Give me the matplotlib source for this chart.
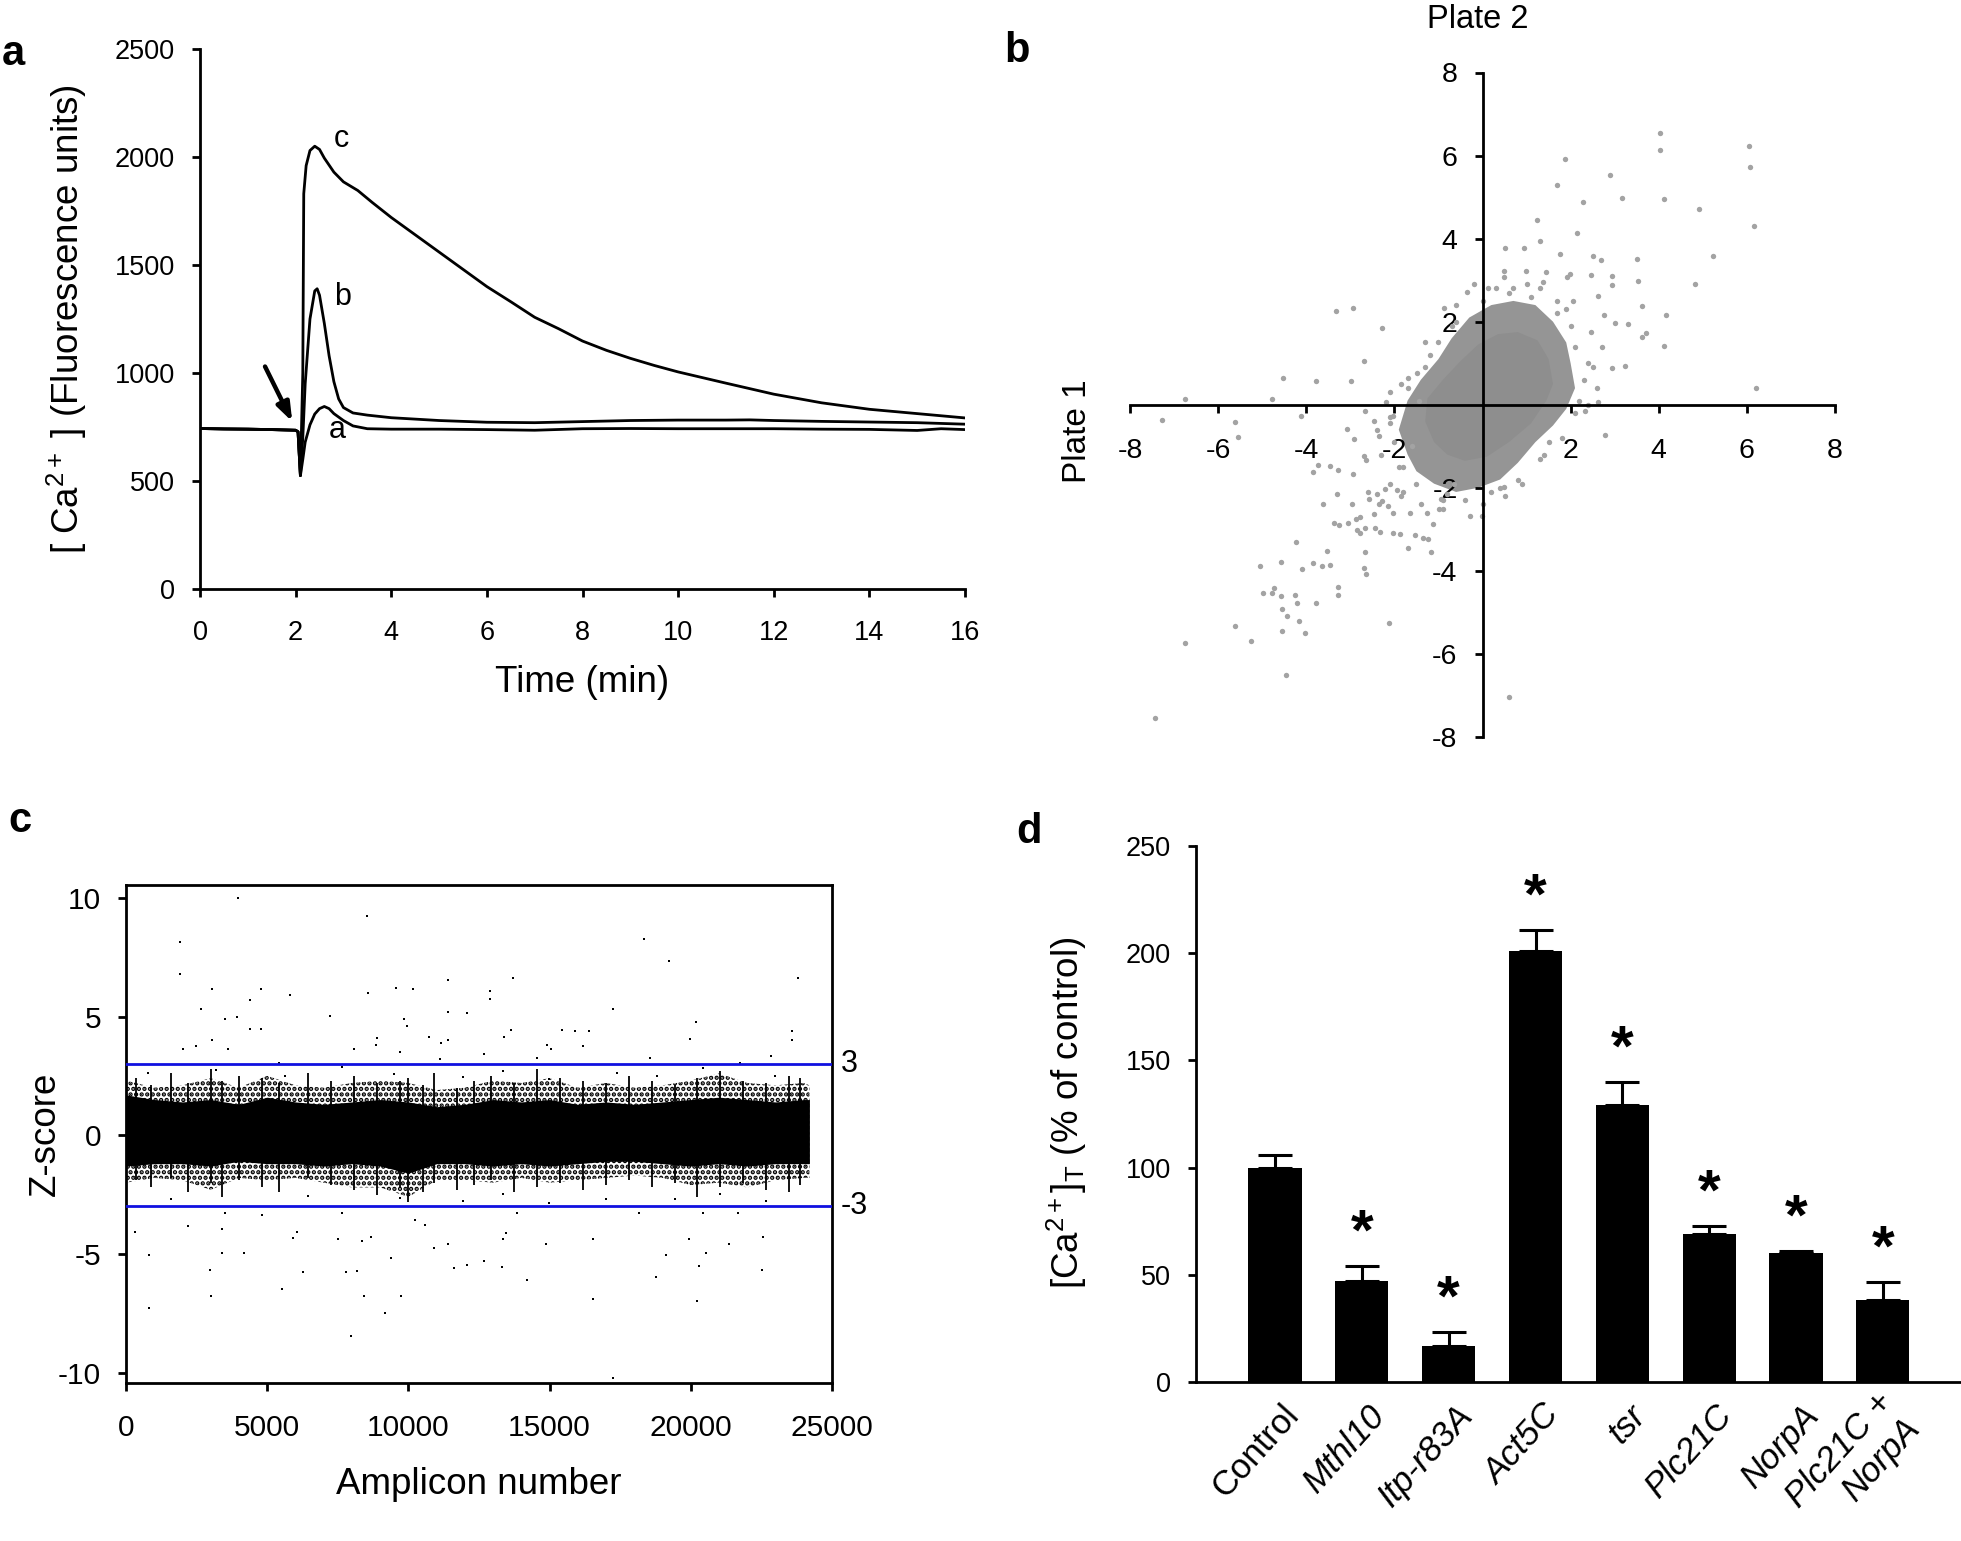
import matplotlib
matplotlib.use("Agg")
import matplotlib.pyplot as plt
import matplotlib.transforms as mtrans

plt.rcParams['font.family'] = ['Liberation Sans', 'DejaVu Sans']
plt.rcParams['mathtext.fontset'] = 'custom'
plt.rcParams['mathtext.rm'] = 'Liberation Sans'
plt.rcParams['mathtext.it'] = 'Liberation Sans:italic'
plt.rcParams['axes.unicode_minus'] = False
plt.rcParams['hatch.linewidth'] = 2.2

W, H = 1961, 1541  # output size in pixels (dpi 100)

# ---------------- panel a: Ca2+ traces ----------------
t_base = [0, 0.5, 1.0, 1.5, 2.0, 2.05, 2.1]
f_base = [743, 741, 740, 738, 735, 728, 525]
t_c = [2.15, 2.17, 2.22, 2.3, 2.4, 2.5, 2.6, 2.8, 3.0, 3.3, 3.6, 4, 4.5, 5, 5.5, 6,
       6.5, 7, 7.5, 8, 8.5, 9, 9.5, 10, 11, 12, 13, 14, 15, 16]
f_c = [1000, 1830, 1960, 2030, 2050, 2035, 1995, 1930, 1885, 1845, 1790, 1720, 1640,
       1560, 1480, 1400, 1330, 1258, 1205, 1148, 1105, 1068, 1035, 1005, 953, 902,
       862, 832, 812, 792]
t_b = [2.15, 2.2, 2.3, 2.4, 2.45, 2.5, 2.6, 2.7, 2.8, 2.9, 3.0, 3.2, 3.5, 4, 5, 6, 7,
       8, 9, 10, 11, 11.5, 12, 13, 14, 15, 16]
f_b = [700, 950, 1250, 1380, 1390, 1360, 1230, 1080, 960, 880, 840, 815, 805, 793,
       780, 772, 770, 775, 780, 782, 782, 783, 780, 776, 773, 770, 763]
t_a = [2.15, 2.2, 2.3, 2.4, 2.5, 2.6, 2.7, 2.8, 3.0, 3.2, 3.5, 4, 5, 6, 7, 8, 9, 10,
       11, 12, 13, 14, 15, 15.5, 16]
f_a = [600, 680, 760, 810, 835, 845, 835, 812, 780, 755, 742, 740, 740, 738, 735,
       742, 743, 742, 742, 742, 740, 739, 734, 742, 738]

# ---------------- panel b: plate 1 vs plate 2 ----------------
b_x = [4.02, 4.03, 6.04, 6.06, 6.16, 6.20, 1.88, 2.89, 1.69, 3.16,
       4.13, 2.29, 4.92, 1.23, 2.15, 1.30, 5.23, 3.51, 2.51, 2.68,
       1.75, 0.95, 0.51, 4.83, 3.52, 2.93, 2.93, 2.46, 1.99, 1.92,
       1.44, 1.37, 2.61, 2.06, 3.62, 4.17, 2.75, 3.00, 3.30, 2.47,
       3.71, 3.62, 4.13, 2.72, 2.93, 3.23, 2.61, 2.78, 2.40, 2.33,
       -0.36, -0.87, 0.12, 0.48, 0.48, 0.99,
       -3.33, -2.94, -2.27, -2.68, -4.53, -3.78, -2.98, -6.75, -4.78, -2.18,
       -1.70, -1.49, -1.45, -1.85,
       -7.28, -5.61, -5.54, -4.12, -3.08, -2.91, -2.67, -2.47, -2.36, -2.11,
       -2.02, -3.74, -3.84, -3.47, -3.29, -2.94, -2.68, -2.64, -3.30, -3.63,
       -2.96, -3.36, -3.26, -3.05, -2.86, -2.78, -2.60, -2.57, -2.39, -2.36,
       -2.22, -2.09, -1.95, -1.85, -2.02, -2.15, -2.29, -2.85, -2.78, -2.67,
       -2.47, -2.43, -2.32, -2.04, -1.88, -1.53, -1.35, -1.23, -1.16, -1.12,
       -1.64, -1.39, -1.26, -0.98, -0.94, -0.81, -0.28, -0.01, 0.48, -0.64,
       -4.23, -3.54, -3.85, -3.65, -3.47, -2.67, -2.68, -2.64, -4.09, -5.06,
       -4.57, -3.29, -3.29, -4.99, -4.78, -4.74, -4.57, -4.25, -3.77, -4.20,
       -4.54, -4.43, -4.16, -4.54, -4.02, -5.61, -5.26, -6.75, -4.47, -2.13,
       -7.43, 0.61, -1.70,
       -2.0, -1.8, -2.1, -1.7, -1.3, -1.0, -0.6, 0.0, 0.6, 1.1,
       1.7, 2.1, 2.3, 2.1, 1.8, 1.3, 0.8, 0.2, -0.4, -0.9,
       -1.5, 2.0, 1.3, 0.3, -0.6, -1.3, -2.1, -2.3, -1.8, 0.9,
       2.4, 1.7, -0.9, 0.5, 1.5, 2.2, -1.6, -0.2, 1.0, 1.9,
       2.5, 0.0, -1.2, 0.7, 1.4, -2.4, -0.7, 2.6, 0.4, -1.9]
b_y = [6.54, 6.13, 6.23, 5.73, 4.31, 0.40, 5.92, 5.52, 5.29, 4.99,
       4.96, 4.87, 4.71, 4.44, 4.13, 3.95, 3.57, 3.51, 3.57, 3.49,
       3.63, 3.78, 3.78, 2.90, 2.99, 3.10, 2.89, 3.13, 3.16, 3.08,
       3.20, 2.96, 2.61, 2.50, 2.38, 2.15, 2.15, 1.96, 1.94, 1.75,
       1.73, 1.64, 1.42, 1.40, 0.89, 0.93, 0.07, -0.72, 0.00, -0.14,
       2.72, 2.34, 2.82, 3.22, 3.08, 3.22,
       2.25, 2.32, 1.84, 1.05, 0.64, 0.57, 0.57, 0.14, 0.13, 0.06,
       0.65, 0.77, 0.09, 0.50,
       -0.36, -0.42, -0.78, -0.26, -0.58, -0.82, -0.16, -0.40, -0.75, -0.45,
       -0.26, -1.45, -1.62, -1.47, -1.56, -1.66, -1.24, -1.33, -2.15, -2.40,
       -2.38, -2.85, -2.90, -2.85, -2.76, -2.71, -2.09, -2.26, -2.15, -2.38,
       -2.03, -1.91, -2.05, -2.20, -2.61, -2.44, -2.32, -3.02, -3.10, -2.96,
       -2.64, -2.96, -3.06, -3.08, -3.11, -3.14, -3.20, -3.23, -3.55, -2.87,
       -2.61, -2.38, -2.61, -2.50, -2.26, -2.15, -2.69, -2.67, -1.97, -1.91,
       -3.31, -3.51, -3.80, -3.89, -3.85, -3.55, -3.92, -4.08, -3.96, -3.88,
       -3.78, -4.40, -4.57, -4.54, -4.54, -4.42, -4.60, -4.57, -4.78, -4.78,
       -4.92, -5.08, -5.20, -5.45, -5.50, -5.32, -5.68, -5.73, -6.50, -5.25,
       -7.55, -7.04, -3.46,
       -0.9, -1.5, -0.3, 0.4, 0.9, 1.5, 2.0, 2.5, 2.7, 2.6,
       2.2, 1.4, 0.6, -0.2, -0.8, -1.3, -1.8, -2.1, -2.3, -2.3,
       -1.9, 1.9, 2.8, 2.8, 2.4, 1.5, 0.3, -1.2, -2.1, -1.9,
       1.0, 2.5, -2.5, -2.2, -0.9, 0.1, -1.0, 2.9, 2.9, 2.3,
       0.9, -2.4, 1.2, 2.8, -1.2, -0.6, 1.9, 0.4, -2.0, -1.5]
# outline of the saturated central cloud and of its speckled fringe
core_x = [-1.3, -1.1, -0.8, -0.4, 0.1, 0.6, 1.1, 1.45, 1.6, 1.5, 1.25, 0.8, 0.35,
          -0.1, -0.5, -0.9, -1.25]
core_y = [-0.4, -0.9, -1.2, -1.35, -1.25, -0.9, -0.45, 0.1, 0.5, 1.1, 1.55, 1.75, 1.7,
          1.45, 1.05, 0.6, 0.15]
fringe_x = [-1.9, -1.7, -1.5, -1.1, -0.6, -0.1, 0.4, 0.8, 1.2, 1.6, 1.9, 2.1, 2.0, 1.9,
            1.6, 1.2, 0.7, 0.2, -0.3, -0.7, -1.0, -1.4, -1.7]
fringe_y = [-0.6, -1.2, -1.6, -1.9, -2.1, -2.0, -1.8, -1.4, -0.9, -0.5, -0.1, 0.4, 1.0,
            1.5, 2.0, 2.4, 2.5, 2.4, 2.1, 1.6, 1.1, 0.6, 0.1]

# ---------------- panel c: Z-scores ----------------
env_x = [0, 1000, 2000, 3000, 4000, 5000, 6000, 7000, 8000, 9000, 10000, 11000, 12000,
         13000, 14000, 15000, 16000, 17000, 18000, 19000, 20000, 21000, 22000, 23000,
         24000, 24200]
core_hi = [1.7, 1.5, 1.4, 1.5, 1.3, 1.6, 1.4, 1.3, 1.4, 1.5, 1.4, 1.2, 1.3, 1.5, 1.4,
           1.5, 1.3, 1.4, 1.3, 1.4, 1.5, 1.6, 1.5, 1.4, 1.5, 1.5]
core_lo = [-1.3, -1.2, -1.2, -1.3, -1.1, -1.2, -1.2, -1.3, -1.2, -1.3, -1.6, -1.2, -1.2,
           -1.3, -1.2, -1.3, -1.2, -1.1, -1.1, -1.2, -1.3, -1.2, -1.3, -1.2, -1.2, -1.2]
outer_hi = [2.3, 2.0, 2.1, 2.4, 2.0, 2.5, 2.1, 2.0, 2.2, 2.3, 2.2, 1.9, 2.0, 2.3, 2.2,
            2.4, 2.0, 2.2, 2.0, 2.1, 2.3, 2.6, 2.2, 2.1, 2.2, 2.1]
outer_lo = [-2.0, -1.8, -1.9, -2.3, -1.8, -1.9, -1.8, -2.0, -2.2, -2.2, -2.6, -1.9, -1.9,
            -2.0, -1.8, -2.0, -1.9, -1.8, -1.7, -1.8, -2.1, -2.0, -2.2, -1.9, -1.8, -1.8]
# vertical streaks of dense points seen along the band
spike_x = [365, 872, 1582, 2190, 3001, 3406, 4015, 4826, 5434, 6448, 7259, 8070, 8881,
           9692, 9996, 10503, 10908, 11719, 12328, 12936, 13747, 14558, 15369, 16180,
           16991, 17802, 18613, 19424, 20235, 21047, 21857, 22668, 23479, 23884]
spike_lo = [-1.9, -2.2, -1.8, -2.4, -2.0, -2.6, -1.9, -2.2, -2.4, -1.8, -2.1, -2.3, -2.5,
            -2.2, -2.8, -2.4, -2.0, -2.3, -2.1, -1.9, -2.4, -2.2, -2.0, -2.3, -2.1, -1.9,
            -2.2, -2.0, -2.6, -2.2, -2.0, -2.3, -2.4, -2.1]
spike_hi = [2.4, 2.1, 2.6, 2.2, 2.8, 2.3, 2.5, 2.4, 2.2, 2.6, 2.3, 2.5, 2.2, 2.3, 2.4,
            2.1, 2.6, 2.0, 2.3, 2.5, 2.2, 2.8, 2.4, 2.3, 2.2, 2.5, 2.3, 2.1, 2.4, 2.7,
            2.3, 2.2, 2.5, 2.4]
c_x = [3974, 8536, 1906, 1906, 18350, 19222, 23783, 13707, 11415, 3062,
       4785, 9550, 10158, 5799, 8577, 12895, 12895, 4380, 2656, 17234,
       7218, 12084, 11415, 3508, 3913, 9854, 9955, 20195, 4380, 4785,
       13382, 13646, 15430, 15917, 16383, 23580, 23580, 19972, 3062, 8881,
       8840, 10746, 11172, 11395, 14923, 15065, 2494, 2028, 3609, 8070,
       9692, 12693, 22831, 14558, 18553, 16180, 11111, 5434, 21756,
       3204, 7664, 13341, 17397, 20438, 5637, 14964, 18816, 22972, 770, 9489, 11922,
       17234, 7968, 9185, 811, 20235, 16525, 3001, 8414, 9753, 5535,
       14193, 18776, 2960, 6285, 7806, 8171, 22526, 11618, 12064, 13301,
       12672, 20276, 9388, 811, 3406, 4177, 19120, 20540, 14862, 21351,
       8374, 11415, 10908, 16525, 19931, 22567, 5900, 6042, 7502, 8678,
       13341, 13443, 324, 3406, 4826, 10604, 10239, 18167, 21655, 2190,
       3508, 7664, 13849, 20438, 16991, 14964, 21047, 1582, 6448, 9692,
       11922, 19424, 22669, 13341]
c_y = [9.99, 9.25, 8.14, 6.80, 8.26, 7.34, 6.62, 6.64, 6.54, 6.14,
       6.16, 6.22, 6.14, 5.90, 6.00, 6.06, 5.74, 5.68, 5.30, 5.30,
       5.04, 5.16, 5.20, 4.91, 4.96, 4.91, 4.61, 4.75, 4.47, 4.47,
       4.15, 4.45, 4.45, 4.37, 4.37, 4.37, 4.01, 4.05, 3.99, 4.11,
       3.81, 4.15, 3.87, 4.01, 3.81, 3.61, 3.77, 3.65, 3.61, 3.61,
       3.51, 3.41, 3.35, 3.25, 3.25, 3.77, 3.21, 3.05, 3.05,
       2.75, 2.87, 2.71, 2.61, 2.81, 2.51, 2.35, 2.51, 2.51, 2.61, 2.59, 2.47,
       -10.25, -8.45, -7.50, -7.30, -7.00, -6.92, -6.76, -6.76, -6.76, -6.46,
       -6.12, -5.96, -5.66, -5.76, -5.76, -5.72, -5.66, -5.60, -5.46, -5.56,
       -5.32, -5.52, -5.16, -5.06, -4.96, -4.96, -5.06, -4.96, -4.57, -4.57,
       -4.47, -4.57, -4.77, -4.37, -4.37, -4.27, -4.33, -4.07, -4.37, -4.27,
       -4.37, -4.11, -4.07, -3.97, -3.37, -3.77, -3.57, -3.27, -3.27, -3.83,
       -3.27, -3.27, -3.27, -3.27, -2.67, -2.87, -2.47, -2.67, -2.57, -2.63,
       -2.77, -2.67, -2.77, -2.47]
z_cut = [3, -3]

# ---------------- panel d: bar chart ----------------
genes = ['Control', 'Mthl10', 'Itp-r83A', 'Act5C', 'tsr', 'Plc21C', 'NorpA',
         'Plc21C +\nNorpA']
ca_pct = [99.7, 47.0, 17.0, 201.2, 129.3, 68.8, 60.2, 38.2]
ca_err = [6.4, 7.1, 6.2, 9.5, 10.6, 4.0, 1.1, 8.4]
signif = [False, True, True, True, True, True, True, True]

# ---------------------------------------------------------------
fig = plt.figure(figsize=(W / 100, H / 100), dpi=100)


def px_axes(x0, y0, x1, y1):
    return fig.add_axes([x0 / W, 1 - y1 / H, (x1 - x0) / W, (y1 - y0) / H])


def style_ticks(ax, xpad=16, ypad=12, size=19.5):
    ax.tick_params(direction='out', length=6, width=2, labelsize=size)
    ax.tick_params(axis='x', pad=xpad)
    ax.tick_params(axis='y', pad=ypad)
    for s in ax.spines.values():
        s.set_linewidth(2)


LABEL_FS = 26.5

# panel a
ax = px_axes(200, 49, 965, 589)
ax.plot(t_base + t_c, f_base + f_c, color='k', lw=2)
ax.plot(t_base + t_b, f_base + f_b, color='k', lw=2)
ax.plot(t_base + t_a, f_base + f_a, color='k', lw=2)
ax.set_xlim(0, 16)
ax.set_ylim(0, 2500)
ax.set_xticks(range(0, 17, 2))
ax.set_yticks(range(0, 2501, 500))
ax.spines['top'].set_visible(False)
ax.spines['right'].set_visible(False)
style_ticks(ax)
for lbl, tx, fy in [('c', 2.95, 2085), ('b', 2.98, 1350), ('a', 2.88, 735)]:
    ax.text(tx, fy, lbl, fontsize=22, ha='center', va='center')
ax.annotate('', xy=(1.93, 775), xytext=(1.36, 1030),
            arrowprops=dict(arrowstyle='-|>,head_length=1.1,head_width=0.4',
                            lw=3.2, color='k', shrinkA=0, shrinkB=0))
fig.text(582 / W, 1 - 692 / H, 'Time (min)', fontsize=LABEL_FS, ha='center',
         va='baseline')
fig.text(67 / W, 1 - 319 / H, r'[ Ca$^{2+}$ ] (Fluorescence units)', fontsize=LABEL_FS,
         ha='center', va='center', rotation=90)

# panel b
ax = px_axes(1130, 72.5, 1835, 737)
ax.fill(fringe_x, fringe_y, color='#959595', lw=0, zorder=1)
ax.fill(core_x, core_y, color='#8e8e8e', lw=0, zorder=2)
ax.scatter(b_x, b_y, s=15, color='#a3a3a3', lw=0, zorder=3)
ax.set_xlim(-8, 8)
ax.set_ylim(-8, 8)
ax.spines['left'].set_position(('data', 0))
ax.spines['bottom'].set_position(('data', 0))
ax.spines['top'].set_visible(False)
ax.spines['right'].set_visible(False)
ticks_b = [-8, -6, -4, -2, 2, 4, 6, 8]
ax.set_xticks(ticks_b)
ax.set_yticks(ticks_b)
style_ticks(ax, xpad=18, ypad=12, size=20.5)
for s in ax.spines.values():
    s.set_zorder(4)
fig.text(1478 / W, 1 - 28 / H, 'Plate 2', fontsize=23.5, ha='center', va='baseline')
fig.text(1077 / W, 1 - 431 / H, 'Plate 1', fontsize=24, ha='center', va='center',
         rotation=90)

# panel c
ax = px_axes(126, 885, 832, 1383)
ax.fill_between(env_x, outer_lo, outer_hi, facecolor='none', edgecolor='k', hatch='...',
                lw=0, zorder=1)
ax.fill_between(env_x, core_lo, core_hi, color='k', lw=0, zorder=2)
ax.vlines(spike_x, spike_lo, spike_hi, color='k', lw=1.3, zorder=2)
ax.scatter(c_x, c_y, s=4, marker='s', color='k', lw=0, zorder=3)
for z in z_cut:
    ax.axhline(z, color='#1010e0', lw=2, zorder=4)
    ax.text(1.012, z, str(z), transform=mtrans.blended_transform_factory(ax.transAxes, ax.transData),
            fontsize=22, ha='left', va='center')
ax.set_xlim(0, 25000)
ax.set_ylim(-10.44, 10.54)
ax.set_xticks(range(0, 25001, 5000))
ax.set_yticks([-10, -5, 0, 5, 10])
style_ticks(ax, size=21.5)
fig.text(479 / W, 1 - 1484 / H, 'Amplicon number', fontsize=LABEL_FS, ha='center',
         va='center')
fig.text(45 / W, 1 - 1134 / H, 'Z-score', fontsize=LABEL_FS, ha='center', va='center',
         rotation=90)

# panel d
ax = px_axes(1196, 846, 1961, 1382)
pos = list(range(len(genes)))
ax.bar(pos, ca_pct, width=0.613, color='k')
ax.errorbar(pos, ca_pct, yerr=[[0] * len(pos), ca_err], fmt='none', ecolor='k',
            elinewidth=2.2, capsize=12, capthick=2.2)
for p, v, e, sig in zip(pos, ca_pct, ca_err, signif):
    if sig:
        ax.text(p, v + e + 2, '*', fontsize=42, fontweight='bold', ha='center',
                va='bottom')
ax.set_xlim(-0.91, 7.9)
ax.set_ylim(0, 250)
ax.set_yticks(range(0, 251, 50))
ax.spines['top'].set_visible(False)
ax.spines['right'].set_visible(False)
style_ticks(ax)
ax.set_xticks(pos)
ax.set_xticklabels(genes, rotation=48, rotation_mode='anchor', ha='right', va='center',
                   fontsize=25)
ax.tick_params(axis='x', length=0, pad=20)
shift = mtrans.ScaledTranslation(0.18, 0, fig.dpi_scale_trans)
for i, lbl in enumerate(ax.get_xticklabels()):
    if i > 0:
        lbl.set_fontstyle('italic')
    lbl.set_transform(lbl.get_transform() + shift)
fig.text(1067 / W, 1 - 1113 / H, r'[Ca$^{2+}$]$_{\mathrm{T}}$ (% of control)',
         fontsize=LABEL_FS, ha='center', va='center', rotation=90)

# panel letters
for letter, lx, ly in [('a', 2, 65), ('b', 1004, 62), ('c', 8, 832), ('d', 1016, 843)]:
    fig.text(lx / W, 1 - ly / H, letter, fontsize=30, fontweight='bold', ha='left',
             va='baseline')

fig.savefig('out.png', dpi=100)
